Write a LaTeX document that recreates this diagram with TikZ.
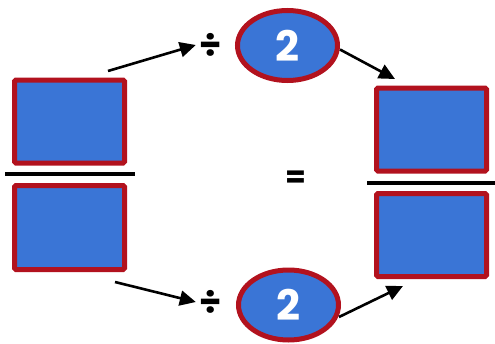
\documentclass[tikz,border=0pt]{standalone}
\usepackage{fontspec}
\usepackage{tikz}
\usetikzlibrary{shapes,calc}
\usetikzlibrary{arrows.meta,positioning}
\usepackage{xcolor}
\newfontfamily\digitfont{Poppins}
\definecolor{boxblue}{RGB}{58,117,214}
\definecolor{boxred}{RGB}{178,18,30}
\tikzset{
numbox/.style={draw=boxred, fill=boxblue, line width=5pt, rounded corners=1.5pt, minimum width=110pt, minimum height=83pt, inner sep=0pt},
twoell/.style={ellipse, draw=boxred, fill=boxblue, line width=5pt, minimum width=100pt, minimum height=70pt, inner sep=0pt, text=white, font=\digitfont\bfseries\fontsize{42}{42}\selectfont},
divsign/.style={inner sep=0pt, font=\digitfont\bfseries\fontsize{36}{36}\selectfont},
arr/.style={-{Triangle[length=16pt,width=15pt]}, line width=2.6pt}
}
\begin{document}
\begin{tikzpicture}[x=1pt, y=-1pt]
\useasboundingbox (0,0) rectangle (495,343);
% left fraction
\node[numbox] (numL) at (69.5,121.5) {};
\node[numbox, minimum height=84pt] (denL) at (69.5,227.5) {};
\draw[line width=4pt] (5,174) -- (135,174);
% right fraction
\node[numbox] (numR) at (431.5,129.5) {};
\node[numbox] (denR) at (431.5,235) {};
\draw[line width=4pt] (367,183) -- (495,183);
% divide by two
\node[divsign] (divT) at (210,45) {÷};
\node[divsign] (divB) at (210,302) {÷};
\node[twoell] (twoT) at (287.5,45.5) {2};
\node[twoell] (twoB) at (288.5,305) {2};
\node[inner sep=0pt, font=\digitfont\bfseries\fontsize{30}{30}\selectfont] (eq) at (296,179) {=};
% arrows
\coordinate (aT) at (108,71);
\coordinate (aB) at (115,282);
\coordinate (hT) at (395,79);
\coordinate (hB) at (403,286);
\draw[arr] (aT) -- ([xshift=-3pt]divT.west);
\draw[arr] (aB) -- ([xshift=-3pt]divB.west);
\draw[arr] (twoT.east) ++(0,4) -- (hT);
\draw[arr] (twoB.east) ++(-2,12) -- (hB);
\end{tikzpicture}
\end{document}
